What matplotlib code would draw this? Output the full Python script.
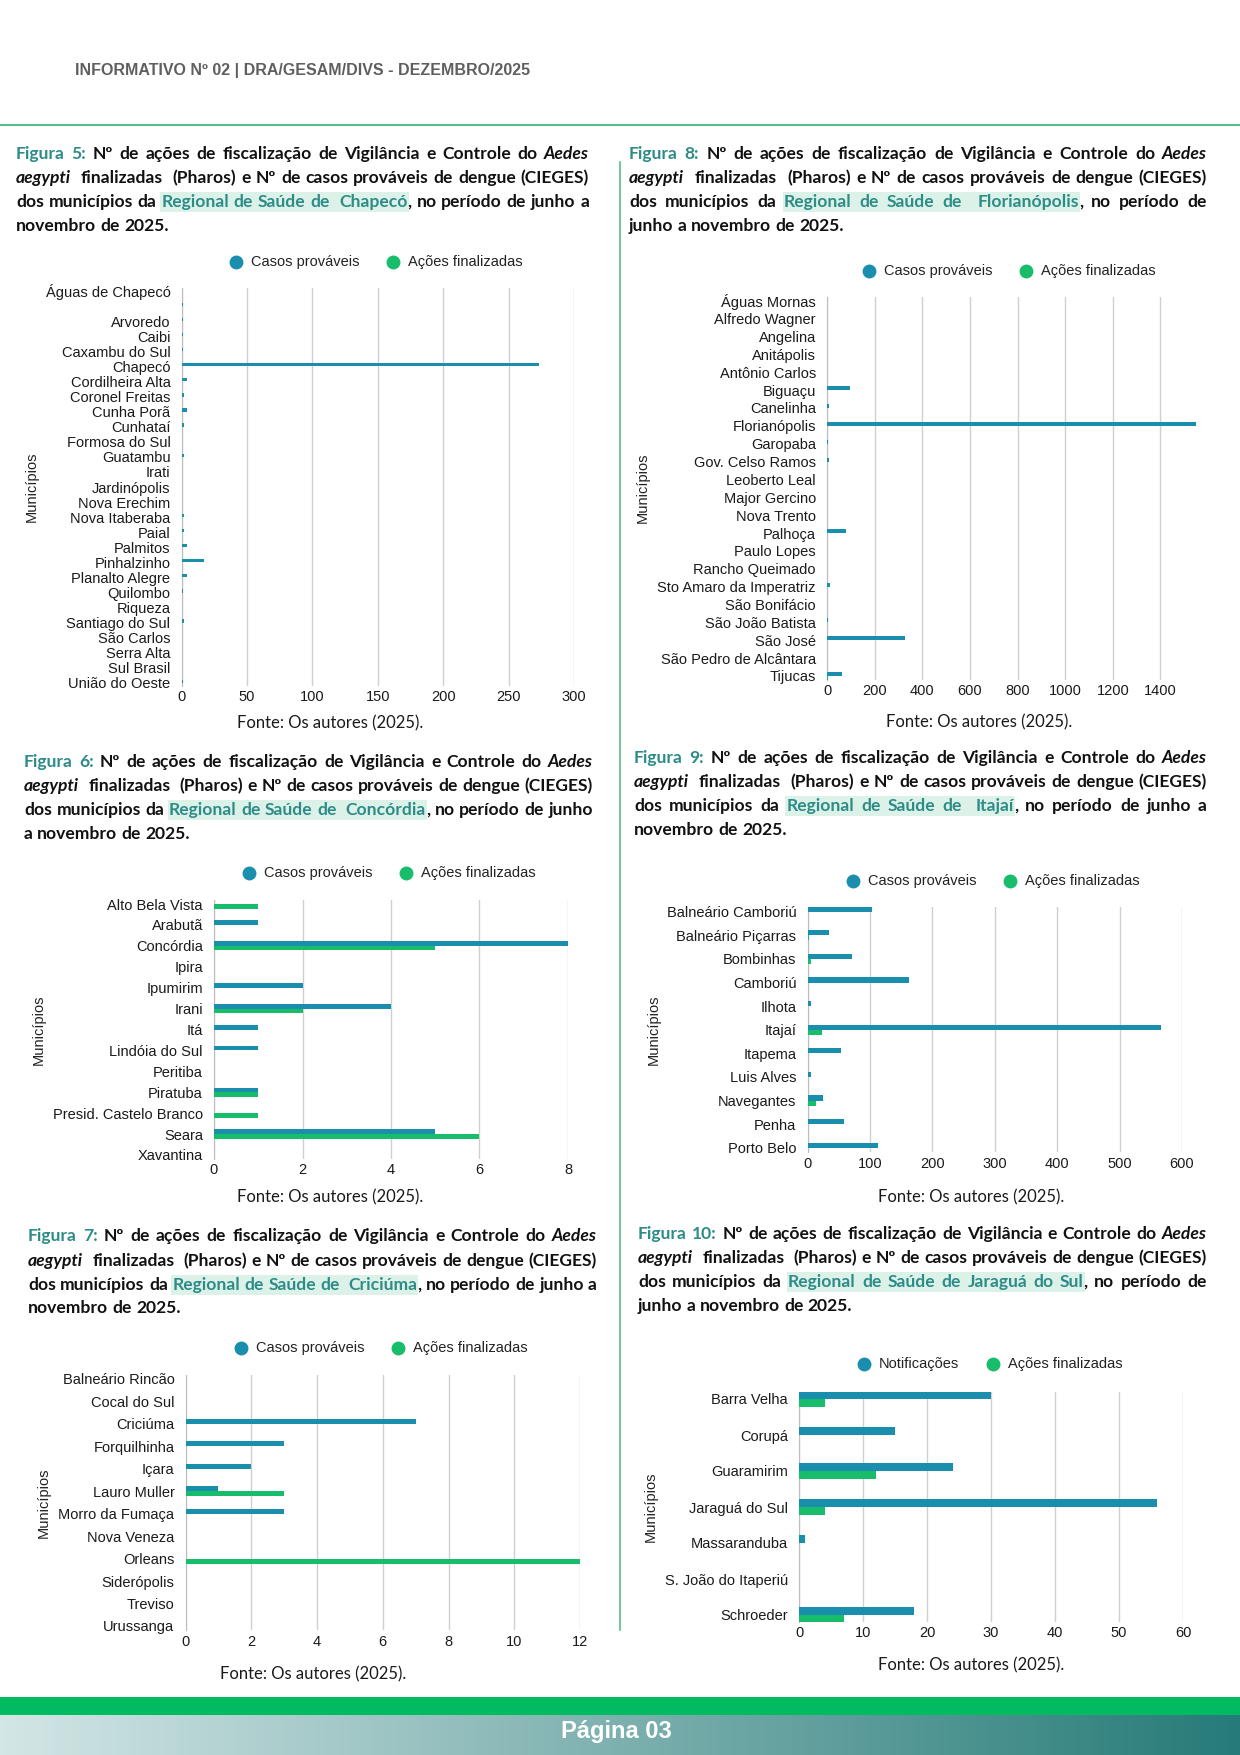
import matplotlib
matplotlib.use('Agg')
import matplotlib.pyplot as plt
from matplotlib.font_manager import FontProperties
from matplotlib.lines import Line2D
from matplotlib.patches import Rectangle
import numpy as np

# ---------------- DATA ----------------
chapeco_munis = ["Águas de Chapecó", "", "Arvoredo", "Caibi", "Caxambu do Sul", "Chapecó",
                 "Cordilheira Alta", "Coronel Freitas", "Cunha Porã", "Cunhataí", "Formosa do Sul",
                 "Guatambu", "Irati", "Jardinópolis", "Nova Erechim", "Nova Itaberaba", "Paial",
                 "Palmitos", "Pinhalzinho", "Planalto Alegre", "Quilombo", "Riqueza",
                 "Santiago do Sul", "São Carlos", "Serra Alta", "Sul Brasil", "União do Oeste"]
chapeco_casos = [0, 1, 1, 1, 1, 273, 4, 2, 4, 2, 0, 2, 0, 0, 0, 2, 2, 4, 17, 4, 1, 0, 2, 0, 0, 0, 1]
chapeco_acoes = [0] * 27

floripa_munis = ["Águas Mornas", "Alfredo Wagner", "Angelina", "Anitápolis", "Antônio Carlos",
                 "Biguaçu", "Canelinha", "Florianópolis", "Garopaba", "Gov. Celso Ramos",
                 "Leoberto Leal", "Major Gercino", "Nova Trento", "Palhoça", "Paulo Lopes",
                 "Rancho Queimado", "Sto Amaro da Imperatriz", "São Bonifácio", "São João Batista",
                 "São José", "São Pedro de Alcântara", "Tijucas"]
floripa_casos = [0, 0, 0, 0, 2, 98, 8, 1549, 6, 9, 0, 0, 1, 81, 1, 1, 12, 0, 4, 329, 1, 63]
floripa_acoes = [0, 0, 0, 0, 0, 0, 0, 0, 0, 0, 0, 0, 0, 0, 0, 0, 0, 0, 0, 0, 0, 5]

concordia_munis = ["Alto Bela Vista", "Arabutã", "Concórdia", "Ipira", "Ipumirim", "Irani", "Itá",
                   "Lindóia do Sul", "Peritiba", "Piratuba", "Presid. Castelo Branco", "Seara",
                   "Xavantina"]
concordia_casos = [0, 1, 8, 0, 2, 4, 1, 1, 0, 1, 0, 5, 0]
concordia_acoes = [1, 0, 5, 0, 0, 2, 0, 0, 0, 1, 1, 6, 0]

itajai_munis = ["Balneário Camboriú", "Balneário Piçarras", "Bombinhas", "Camboriú", "Ilhota",
                "Itajaí", "Itapema", "Luis Alves", "Navegantes", "Penha", "Porto Belo"]
itajai_casos = [103, 34, 72, 162, 5, 567, 54, 6, 25, 59, 113]
itajai_acoes = [0, 2, 5, 0, 0, 23, 0, 0, 13, 0, 0]

criciuma_munis = ["Balneário Rincão", "Cocal do Sul", "Criciúma", "Forquilhinha", "Içara",
                  "Lauro Muller", "Morro da Fumaça", "Nova Veneza", "Orleans", "Siderópolis",
                  "Treviso", "Urussanga"]
criciuma_casos = [0, 0, 7, 3, 2, 1, 3, 0, 0, 0, 0, 0]
criciuma_acoes = [0, 0, 0, 0, 0, 3, 0, 0, 12, 0, 0, 0]

jaragua_munis = ["Barra Velha", "Corupá", "Guaramirim", "Jaraguá do Sul", "Massaranduba",
                 "S. João do Itaperiú", "Schroeder"]
jaragua_notif = [30, 15, 24, 56, 1, 0, 18]
jaragua_acoes = [4, 0, 12, 4, 0, 0, 7]

legend_casos = ["Casos prováveis", "Ações finalizadas"]
legend_notif = ["Notificações", "Ações finalizadas"]

# ---------------- STYLE ----------------
W, H = 1240, 1755
BLUE = '#1a8fad'
GREEN = '#17bd6a'
TEAL = '#2e8c88'
HLCOL = '#dcf2e8'
LINEG = '#58bc8c'
BAR_H = 0.22

plt.rcParams['font.family'] = ['Liberation Sans', 'DejaVu Sans']
fig = plt.figure(figsize=(12.4, 17.55), dpi=100)
renderer = fig.canvas.get_renderer()


def FX(x):
    return x / W


def FY(y):
    return 1 - y / H


def chart(cats, v1, v2, left, right, yfirst, ylast, xmax, xticks):
    n = len(cats)
    sp = (ylast - yfirst) / (n - 1)
    top = yfirst - 0.2 * sp
    bot = ylast + 0.2 * sp
    ax = fig.add_axes([FX(left), FY(bot), (right - left) / W, (bot - top) / H])
    y = np.arange(n)
    ax.barh(y - BAR_H / 2, v1, height=BAR_H, color=BLUE, linewidth=0, zorder=3)
    ax.barh(y + BAR_H / 2, v2, height=BAR_H, color=GREEN, linewidth=0, zorder=3)
    ax.set_ylim(n - 1 + 0.2, -0.2)
    ax.set_xlim(0, xmax)
    ax.set_xticks(xticks)
    ax.set_yticks(y)
    ax.set_yticklabels(cats)
    ax.grid(axis='x', color='#cfcfcf', lw=1, zorder=0)
    ax.set_axisbelow(True)
    for s in ['top', 'right', 'bottom']:
        ax.spines[s].set_visible(False)
    ax.spines['left'].set_color('#bdbdbd')
    ax.tick_params(length=0, labelsize=10.5, colors='#1a1a1a')
    ax.tick_params(axis='x', pad=3)
    ax.tick_params(axis='y', pad=8)
    ax.set_facecolor('none')
    return ax


def legend(cx, cy, labels):
    fp = FontProperties(family='Liberation Sans', size=10.5)
    x = cx
    for lab, col in zip(labels, [BLUE, GREEN]):
        fig.add_artist(Line2D([FX(x)], [FY(cy)], marker='o', ms=10, mew=0, color=col,
                              ls='none', transform=fig.transFigure))
        t = fig.text(FX(x + 14.7), FY(cy), lab, fontproperties=fp, va='center', ha='left',
                     color='#222222')
        w = t.get_window_extent(renderer).width
        x = x + 14.7 + w + 34


def side_texts(mx, my, fx, fy):
    fig.text(FX(mx), FY(my), 'Municípios', rotation=90, ha='center', va='center',
             fontsize=10.5, color='#222222')
    fig.text(FX(fx), FY(fy), 'Fonte: Os autores (2025).', family='Lato', fontsize=12,
             ha='center', va='center', color='#1a1a1a')


CAP_FS = 12.6
FP_B = FontProperties(family='Lato', weight='bold', size=CAP_FS)
FP_I = FontProperties(family='Lato', weight='bold', style='italic', size=CAP_FS)


def _w(s, fp):
    t = fig.text(0, 0, s, fontproperties=fp)
    w = t.get_window_extent(renderer).width
    t.remove()
    return w


SPW = _w('a a', FP_B) - _w('aa', FP_B)


def caption(x0, x1, ys, lines):
    for li, (line, yc) in enumerate(zip(lines, ys)):
        tokens = []
        pending = 0
        for seg, st in line:
            parts = seg.split(' ')
            for k, p in enumerate(parts):
                if k > 0:
                    pending += 1
                if p == '':
                    continue
                tokens.append([p, st, pending if tokens else 0])
                pending = 0
        texts, widths = [], []
        for p, st, ns in tokens:
            fp = FP_I if st == 'i' else FP_B
            col = TEAL if st in ('t', 'h') else '#111111'
            t = fig.text(0, FY(yc + 5), p, fontproperties=fp, color=col, va='baseline',
                         ha='left', zorder=3)
            widths.append(t.get_window_extent(renderer).width)
            texts.append(t)
        nsp = sum(tk[2] for tk in tokens)
        natural = sum(widths) + nsp * SPW
        extra = (x1 - x0 - natural) / nsp if (li < len(lines) - 1 and nsp > 0) else 0
        x = x0
        lo = hi = None
        for t, w, tk in zip(texts, widths, tokens):
            x += tk[2] * (SPW + extra)
            t.set_x(FX(x))
            if tk[1] == 'h':
                if lo is None:
                    lo = x
                hi = x + w
            x += w
        if lo is not None:
            fig.add_artist(Rectangle((FX(lo - 1), FY(yc + 10)), (hi - lo + 2) / W, 20 / H,
                                     transform=fig.transFigure, facecolor=HLCOL,
                                     edgecolor='none', zorder=1))


def cap_lines(fig_label, region, tail3, line4):
    return [
        [(fig_label, 't'), (' Nº de ações de fiscalização de Vigilância e Controle do ', 'k'),
         ('Aedes', 'i')],
        [('aegypti', 'i'), ('  finalizadas  (Pharos) e Nº de casos prováveis de dengue (CIEGES)', 'k')],
        [('dos municípios da ', 'k'), (region, 'h'), (tail3, 'k')],
        [(line4, 'k')],
    ]


# ---------------- PAGE FURNITURE ----------------
fig.text(FX(75), FY(71), 'INFORMATIVO Nº 02 | DRA/GESAM/DIVS - DEZEMBRO/2025', fontsize=11.5,
         fontweight='bold', color='#5f5f5f', va='center', ha='left')
fig.add_artist(Line2D([0, 1], [FY(125), FY(125)], color=LINEG, lw=1.5, transform=fig.transFigure))
fig.add_artist(Line2D([FX(619.5), FX(619.5)], [FY(162), FY(1630)], color=LINEG, lw=1.2,
                      transform=fig.transFigure))

fig.add_artist(Rectangle((0, FY(1715)), 1, 18 / H, transform=fig.transFigure,
                         facecolor='#00bb5f', edgecolor='none'))
gax = fig.add_axes([0, 0, 1, 40 / H])
c0 = np.array([0xd3, 0xe6, 0xe6]) / 255
c1 = np.array([0x26, 0x7b, 0x78]) / 255
tt = np.linspace(0, 1, 256)[:, None]
grad = (c0 * (1 - tt) + c1 * tt)[None, :, :]
gax.imshow(grad, aspect='auto', extent=[0, 1, 0, 1])
gax.axis('off')
fig.text(FX(616), FY(1738), 'Página 03', fontsize=17, fontweight='bold', color='white',
         ha='center', va='baseline')

# ---------------- CAPTIONS ----------------
caption(16, 589, [154, 178, 202, 226],
        cap_lines('Figura 5:', 'Regional de Saúde de  Chapecó', ', no período de junho a',
                  'novembro de 2025.'))
caption(629, 1207, [154, 178, 202, 226],
        cap_lines('Figura 8:', 'Regional de Saúde de  Florianópolis', ', no período de',
                  'junho a novembro de 2025.'))
caption(24, 593, [762, 786, 810, 834],
        cap_lines('Figura 6:', 'Regional de Saúde de  Concórdia', ', no período de junho',
                  'a novembro de 2025.'))
caption(634, 1207, [758, 782, 806, 830],
        cap_lines('Figura 9:', 'Regional de Saúde de  Itajaí', ', no período de junho a',
                  'novembro de 2025.'))
caption(28, 597, [1236, 1261, 1285, 1308],
        cap_lines('Figura 7:', 'Regional de Saúde de  Criciúma', ', no período de junho a',
                  'novembro de 2025.'))
caption(638, 1207, [1234, 1258, 1282, 1306],
        cap_lines('Figura 10:', 'Regional de Saúde de Jaraguá do Sul', ', no período de',
                  'junho a novembro de 2025.'))

# ---------------- CHARTS ----------------
chart(chapeco_munis, chapeco_casos, chapeco_acoes, 181.5, 574, 291, 683, 300,
      [0, 50, 100, 150, 200, 250, 300])
legend(236, 262, legend_casos)
side_texts(32, 487, 330, 723)

chart(floripa_munis, floripa_casos, floripa_acoes, 827, 1197.4, 300.7, 676, 1555,
      [0, 200, 400, 600, 800, 1000, 1200, 1400])
legend(869, 271, legend_casos)
side_texts(643, 488, 979, 722)

chart(concordia_munis, concordia_casos, concordia_acoes, 214, 568, 904, 1155, 8,
      [0, 2, 4, 6, 8])
legend(249, 873, legend_casos)
side_texts(39, 1030, 330, 1197)

chart(itajai_munis, itajai_casos, itajai_acoes, 807.5, 1182, 911.7, 1147.7, 600,
      [0, 100, 200, 300, 400, 500, 600])
legend(853, 881, legend_casos)
side_texts(654, 1030, 971, 1197)

chart(criciuma_munis, criciuma_casos, criciuma_acoes, 185.5, 580, 1379, 1626, 12,
      [0, 2, 4, 6, 8, 10, 12])
legend(241, 1348, legend_casos)
side_texts(43.5, 1503, 313, 1674)

chart(jaragua_munis, jaragua_notif, jaragua_acoes, 799, 1183, 1399, 1615, 60,
      [0, 10, 20, 30, 40, 50, 60])
legend(864, 1364, legend_notif)
side_texts(651, 1507, 971, 1665)

fig.savefig('out.png', dpi=100)
